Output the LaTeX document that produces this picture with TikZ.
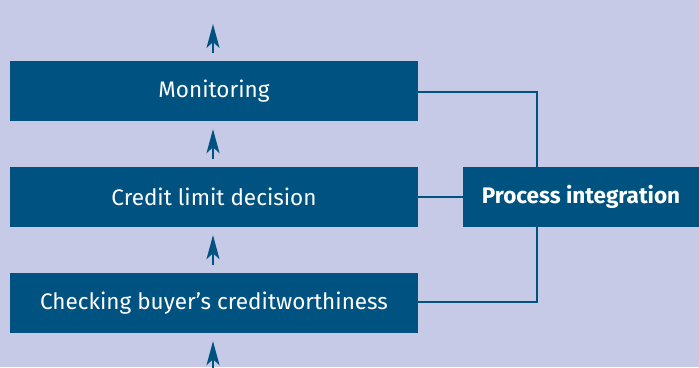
\documentclass[tikz,border=0pt]{standalone}
\usepackage{fontspec}
\setmainfont{Fira Sans}
\usetikzlibrary{arrows.meta}
\definecolor{bg}{RGB}{199,202,230}
\definecolor{boxc}{RGB}{0,83,128}
\begin{document}
\begin{tikzpicture}[x=1pt,y=-1pt,
  procbox/.style={fill=boxc,text=white,minimum height=60pt,inner sep=0pt,font=\fontsize{22.5}{24}\selectfont},
  flow/.style={boxc,line width=2pt,-{Stealth[length=24pt,width=13pt,inset=6pt]},shorten >=8pt,shorten <=8pt},
  link/.style={boxc,line width=2pt}]
\fill[bg] (0,0) rectangle (699,367);
\useasboundingbox (0,0) rectangle (699,367);
\node[procbox,minimum width=408pt] (mon) at (214,91) {Monitoring};
\node[procbox,minimum width=408pt] (cld) at (214,197) {Credit limit decision};
\node[procbox,minimum width=408pt] (chk) at (214,303) {Checking buyer’s creditworthiness};
\node[procbox,minimum width=236pt,font=\bfseries\fontsize{22.5}{24}\selectfont] (pi) at (581,197) {Process integration};
\coordinate (top) at (213,16);
\coordinate (bot) at (213,375);
\draw[flow] (mon.north -| top) -- (top);
\draw[flow] (cld.north -| top) -- (mon.south -| top);
\draw[flow] (chk.north -| top) -- (cld.south -| top);
\draw[flow,shorten <=0pt] (bot) -- (chk.south -| top);
\coordinate (vx) at (537,0);
\draw[link] (mon.east |- 0,92) -| (pi.north -| vx);
\draw[link] (chk.east |- 0,302) -| (pi.south -| vx);
\draw[link] (cld.east) -- (pi.west);
\end{tikzpicture}
\end{document}
